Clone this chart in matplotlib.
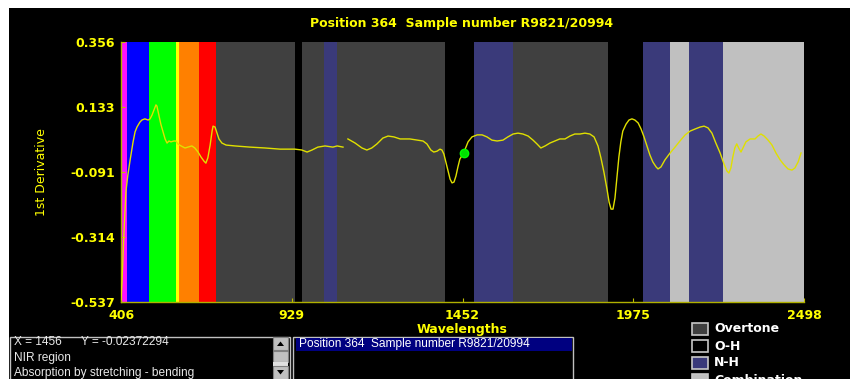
import matplotlib
matplotlib.use("Agg")
import matplotlib.pyplot as plt
from matplotlib.patches import Rectangle, Polygon
import numpy as np

# ---- spectrum: 1st derivative vs wavelength (nm); NaN marks the detector break
wavelength = [406, 409, 412, 415, 418, 421, 427, 434, 443, 449, 455, 464, 470, 479,
              489, 495, 501, 507, 513, 516, 522, 528, 535, 541, 547, 553, 559, 568,
              574, 580, 590, 602, 611, 623, 632, 642, 651, 660, 666, 672, 679, 685,
              688, 694, 700, 706, 715, 728, 755, 801, 847, 893, 939, 960, 976, 991,
              1009, 1031, 1055, 1068, 1086, 1093,
              1101, 1123, 1144, 1159, 1174, 1190, 1208, 1224, 1242, 1261, 1291, 1315,
              1331, 1343, 1355, 1364, 1374, 1383, 1389, 1395, 1401, 1408, 1414, 1420,
              1426, 1432, 1438, 1444, 1456, 1469, 1481, 1497, 1512, 1527, 1542, 1558,
              1576, 1591, 1607, 1622, 1637, 1653, 1668, 1680, 1692, 1705, 1720, 1735,
              1750, 1766, 1781, 1796, 1812, 1827, 1842, 1855, 1867, 1876, 1885, 1895,
              1901, 1907, 1913, 1919, 1925, 1931, 1937, 1943, 1953, 1962, 1971, 1980,
              1990, 1999, 2008, 2017, 2026, 2035, 2045, 2051, 2060, 2072, 2088, 2103,
              2118, 2134, 2149, 2164, 2180, 2192, 2204, 2216, 2228, 2241, 2253, 2262,
              2268, 2274, 2280, 2286, 2292, 2298, 2305, 2311, 2320, 2333, 2348, 2357,
              2366, 2376, 2388, 2400, 2412, 2425, 2437, 2449, 2461, 2470, 2480, 2489]
derivative = [-0.530, -0.470, -0.380, -0.300, -0.231, -0.159, -0.101, -0.049, 0.013,
              0.047, 0.064, 0.081, 0.088, 0.092, 0.088, 0.092, 0.105, 0.122, 0.140,
              0.136, 0.105, 0.074, 0.047, 0.023, 0.009, 0.016, 0.013, 0.016, 0.016,
              0.006, -0.001, -0.008, -0.005, -0.001, -0.008, -0.022, -0.039, -0.053,
              -0.060, -0.042, 0.002, 0.050, 0.067, 0.064, 0.043, 0.023, 0.009, 0.002,
              -0.001, -0.005, -0.008, -0.012, -0.012, -0.015, -0.022, -0.015, -0.005,
              -0.001, -0.005, -0.001, -0.005, np.nan,
              0.023, 0.009, -0.008, -0.015, -0.008, 0.006, 0.026, 0.033, 0.030, 0.023,
              0.023, 0.019, 0.016, 0.006, -0.015, -0.022, -0.019, -0.012, -0.015,
              -0.029, -0.056, -0.087, -0.115, -0.128, -0.125, -0.104, -0.073, -0.046,
              -0.02372294, 0.013, 0.030, 0.037, 0.037, 0.030, 0.019, 0.016, 0.019,
              0.030, 0.040, 0.043, 0.040, 0.033, 0.019, 0.006, -0.008, -0.001, 0.009,
              0.016, 0.023, 0.023, 0.033, 0.040, 0.040, 0.043, 0.040, 0.030, -0.001,
              -0.042, -0.090, -0.152, -0.194, -0.218, -0.218, -0.180, -0.111, -0.039,
              0.013, 0.050, 0.074, 0.088, 0.092, 0.088, 0.078, 0.057, 0.030, -0.001,
              -0.032, -0.056, -0.073, -0.080, -0.073, -0.049, -0.025, -0.005, 0.016,
              0.037, 0.050, 0.057, 0.064, 0.067, 0.061, 0.043, 0.009, -0.025, -0.063,
              -0.087, -0.094, -0.077, -0.039, -0.008, 0.006, -0.008, -0.022, -0.008,
              0.013, 0.023, 0.023, 0.033, 0.040, 0.033, 0.019, 0.002, -0.025, -0.049,
              -0.066, -0.080, -0.084, -0.077, -0.056, -0.025]

cursor_x = 1456
cursor_y = -0.02372294

# ---- spectral regions
band_start = [406, 423.5, 491.8, 574.5, 584.6, 645.8, 697, 939, 959.5, 1027.8,
              1068.5, 1398, 1488, 1607.6, 1897, 2006, 2088.5, 2146.7, 2249]
band_end = [423.5, 491.8, 574.5, 584.6, 645.8, 697, 939, 959.5, 1027.8, 1068.5,
            1398, 1488, 1607.6, 1897, 2006, 2088.5, 2146.7, 2249, 2498]
band_kind = ["violet", "blue", "green", "yellow", "orange", "red", "Overtone", "O-H",
             "Overtone", "N-H", "Overtone", "O-H", "N-H", "Overtone", "O-H", "N-H",
             "Combination", "N-H", "Combination"]
kind_color = {"violet": "#ff10ff", "blue": "#0000ff", "green": "#00ff00",
              "yellow": "#ffff00", "orange": "#ff8000", "red": "#ff0000",
              "Overtone": "#404040", "O-H": "#000000", "N-H": "#3a3a7a",
              "Combination": "#c0c0c0"}
legend_labels = ["Overtone", "O-H", "N-H", "Combination"]

x_ticks = [406, 929, 1452, 1975, 2498]
y_ticks = [0.356, 0.133, -0.091, -0.314, -0.537]

title = "Position 364  Sample number R9821/20994"
info_lines = ["X = 1456      Y = -0.02372294", "NIR region",
              "Absorption by stretching - bending"]

YELLOW = "#ffff00"
W, H = 850, 379

fig = plt.figure(figsize=(W / 100, H / 100), dpi=100)
fig.patch.set_facecolor("white")

# pixel-space background layer
bg = fig.add_axes([0, 0, 1, 1], zorder=0)
bg.set_xlim(0, W)
bg.set_ylim(H, 0)
bg.axis("off")
bg.add_patch(Rectangle((9, 8), W - 9, H - 8, facecolor="black", edgecolor="none"))

bg.text(462, 23, title, color=YELLOW, fontsize=9, fontweight="bold",
        ha="center", va="center", family="DejaVu Sans")
bg.text(42, 172, "1st Derivative", color=YELLOW, fontsize=9, rotation=90,
        ha="center", va="center", family="DejaVu Sans")
bg.text(462, 329, "Wavelengths", color=YELLOW, fontsize=9, fontweight="bold",
        ha="center", va="center", family="DejaVu Sans")

# info box with scrollbar
bg.add_patch(Rectangle((10.5, 336.5), 280, 45, facecolor="black",
                       edgecolor="#c0c0c0", lw=1))
for i, line in enumerate(info_lines):
    bg.text(14, 342 + i * 15.5, line, color="#e8e8e8", fontsize=8.6,
            ha="left", va="center", family="Liberation Sans")
bg.add_patch(Rectangle((273, 337), 15, 13, facecolor="#c0c0c0", edgecolor="#808080", lw=0.8))
bg.add_patch(Polygon([[277, 346], [284, 346], [280.5, 341.5]], closed=True,
                     facecolor="black", edgecolor="none"))
bg.add_patch(Rectangle((273, 351), 15, 11, facecolor="#c0c0c0", edgecolor="#808080", lw=0.8))
bg.add_patch(Rectangle((273, 362), 15, 4, facecolor="#e0e0e0", edgecolor="none"))
bg.add_patch(Rectangle((273, 366), 15, 14, facecolor="#c0c0c0", edgecolor="#808080", lw=0.8))
bg.add_patch(Polygon([[277, 370], [284, 370], [280.5, 374.5]], closed=True,
                     facecolor="black", edgecolor="none"))

# sample list box
bg.add_patch(Rectangle((293.5, 336.5), 280, 45, facecolor="black",
                       edgecolor="#c0c0c0", lw=1))
bg.add_patch(Rectangle((296, 338), 276, 13, facecolor="#000080", edgecolor="none"))
bg.text(299, 344.5, title, color="white", fontsize=8.6, ha="left", va="center",
        family="Liberation Sans")

# region legend
for i, lab in enumerate(legend_labels):
    yc = 329 + i * 17
    bg.add_patch(Rectangle((692.5, yc - 6), 16, 12, facecolor=kind_color[lab],
                           edgecolor="#c8c8c8", lw=1.2))
    bg.text(714, yc, lab, color="white", fontsize=9, fontweight="bold",
            ha="left", va="center", family="DejaVu Sans")

# ---- spectrum axes
ax = fig.add_axes([121 / W, (H - 302) / H, 683 / W, 260 / H], zorder=1)
ax.set_facecolor("black")
for s, e, k in zip(band_start, band_end, band_kind):
    ax.axvspan(s, e, facecolor=kind_color[k], edgecolor="none", lw=0)

ax.plot(wavelength, derivative, color="#e0e000", lw=1.0, zorder=3)
ax.plot([cursor_x], [cursor_y], "o", color="#00e000", ms=6, mec="#00ff00", zorder=4)

ax.set_xlim(x_ticks[0], x_ticks[-1])
ax.set_ylim(y_ticks[-1], y_ticks[0])
ax.set_xticks(x_ticks)
ax.set_xticklabels([str(v) for v in x_ticks])
ax.set_yticks(y_ticks)
ax.set_yticklabels([f"{v:.3f}" for v in y_ticks])
ax.tick_params(direction="in", length=3, width=0.8, color="#c0c000",
               labelcolor=YELLOW, labelsize=9)
ax.tick_params(axis="x", pad=5)
ax.tick_params(axis="y", pad=4.5)
for lbl in ax.get_xticklabels() + ax.get_yticklabels():
    lbl.set_fontweight("bold")
for side in ("top", "right"):
    ax.spines[side].set_visible(False)
for side in ("left", "bottom"):
    ax.spines[side].set_color("#b0b000")
    ax.spines[side].set_linewidth(1.0)

fig.savefig("out.png", dpi=100, facecolor=fig.get_facecolor())
